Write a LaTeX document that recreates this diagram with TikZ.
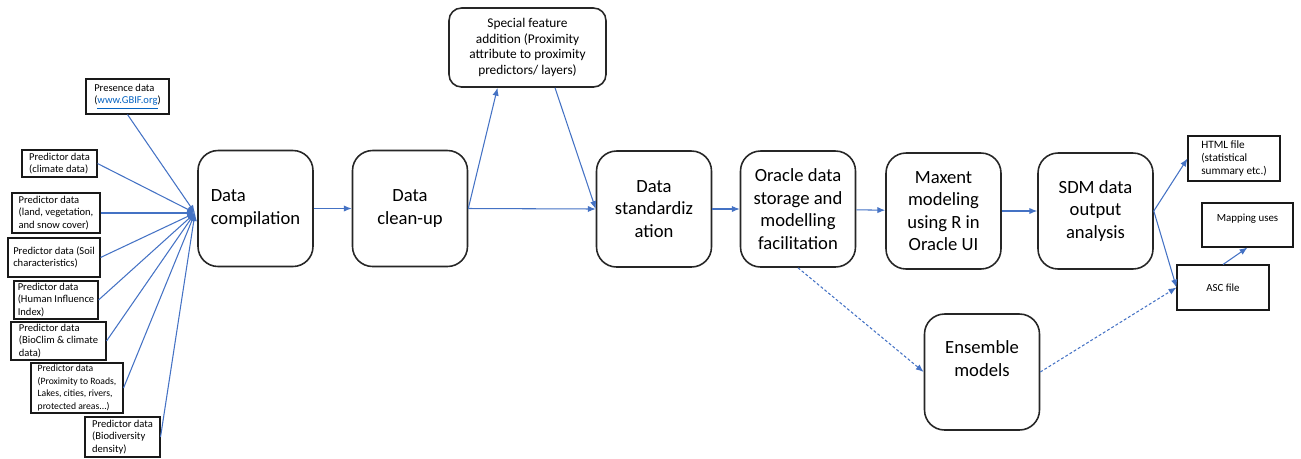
\documentclass[tikz,border=0pt]{standalone}
\usepackage{fontspec}
\setmainfont{Carlito}
\usepackage{tikz}
\usetikzlibrary{arrows.meta}
\usepackage{xcolor}
\definecolor{flowblue}{HTML}{4472C4}
\definecolor{linkblue}{HTML}{0563C1}
\tikzstyle{stage}=[draw=black!85, line width=0.9pt, rounded corners=0.4cm, minimum width=2.3cm, minimum height=2.32cm, inner sep=2pt, align=center, font=\fontsize{10.6}{12.8}\selectfont]
\tikzstyle{source}=[draw=black!90, line width=0.6pt, inner sep=1pt, align=left, font=\fontsize{6}{7.2}\selectfont]
\tikzstyle{flow}=[draw=flowblue, line width=0.6pt, -{Latex[length=4.5pt,width=3.6pt]}]
\tikzstyle{optional}=[flow, dash pattern=on 1.6pt off 1.2pt]

\begin{document}
\begin{tikzpicture}[x=0.02cm,y=-0.02cm]
		\useasboundingbox (0,0) rectangle (1301,458);
		\node[source, minimum width=1.66cm, minimum height=0.7cm] (pres) at (127.5,96.5) {Presence data\\({\color{linkblue}\underline{www.GBIF.org}})};
		\node[source, minimum width=1.5cm, minimum height=0.54cm] (clim) at (59.5,163.5) {Predictor data\\(climate data)};
		\node[source, minimum width=1.76cm, minimum height=0.8cm] (land) at (56,213) {Predictor data\\(land, vegetation,\\and snow cover)};
		\node[source, minimum width=1.84cm, minimum height=0.78cm] (soil) at (54,257.5) {Predictor data (Soil\\characteristics)};
		\node[source, minimum width=1.68cm, minimum height=0.76cm] (human) at (56,300) {Predictor data\\(Human Influence\\Index)};
		\node[source, minimum width=1.9cm, minimum height=0.76cm] (bioclim) at (58.5,341) {Predictor data\\(BioClim \& climate\\data)};
		\node[source, minimum width=1.84cm, minimum height=1cm, font=\fontsize{5.5}{7.2}\selectfont] (prox) at (77,388) {Predictor data\\(Proximity to Roads,\\Lakes, cities, rivers,\\protected areas...)};
		\node[source, minimum width=1.5cm, minimum height=0.8cm] (biod) at (122.5,437) {Predictor data\\(Biodiversity\\density)};
		\coordinate (hub) at (195,213);
		\node[stage, align=left] (comp) at (255.5,208.5) {Data\\compilation};
		\node[stage] (clean) at (410,208.5) {Data\\clean-up};
		\node[draw=black!85, line width=0.9pt, rounded corners=0.25cm, minimum width=3.14cm, minimum height=1.58cm, align=center, font=\fontsize{7.6}{8.9}\selectfont] (special) at (527.5,47.5) {Special feature\\addition (Proximity\\attribute to proximity\\predictors/ layers)};
		\node[stage] (std) at (654,209) {Data\\standardiz\\ation};
		\node[stage] (oracle) at (798,209) {Oracle data\\storage and\\modelling\\facilitation};
		\node[stage] (maxent) at (943.5,211) {Maxent\\modeling\\using R in\\Oracle UI};
		\node[stage] (sdm) at (1095.5,211) {SDM data\\output\\analysis};
		\node[stage] (ens) at (982,372) {Ensemble\\models\\[0.08cm]};
		\node[source, minimum width=1.84cm, minimum height=0.9cm, font=\fontsize{6.4}{7.3}\selectfont] (html) at (1234,158.5) {HTML file\\(statistical\\summary etc.)};
		\node[source, minimum width=1.82cm, minimum height=0.88cm, font=\fontsize{6.2}{7.3}\selectfont] (map) at (1247.5,225) {Mapping uses\\[0.02cm]};
		\node[source, minimum width=1.84cm, minimum height=0.9cm, font=\fontsize{6.2}{7.3}\selectfont] (asc) at (1223,287.5) {ASC file};
		\foreach \src in {clim,land,soil,human,bioclim,prox,biod}
			\draw[flow] (\src.east) -- (hub);
		\draw[flow] (pres.south) -- (hub);
		\draw[flow] (comp) -- (clean);
		\draw[flow] (clean.east) -- (std.west);
		\draw[flow] (clean.east) -- ([xshift=-0.6cm]special.south);
		\draw[flow] ([xshift=0.55cm]special.south) -- (std.west);
		\draw[flow] (std) -- (oracle);
		\draw[flow] (oracle) -- (maxent);
		\draw[flow] (maxent) -- (sdm);
		\draw[flow] (sdm.east) -- (html.west);
		\draw[flow] (sdm.east) -- (asc.west);
		\draw[flow] (asc.north) -- (map.south);
		\draw[optional] (oracle.south) -- (ens.west);
		\draw[optional] (ens.east) -- (asc.west);
	\end{tikzpicture}
\end{document}
